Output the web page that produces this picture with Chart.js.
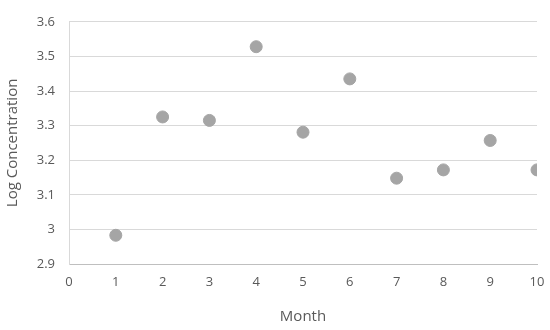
<!DOCTYPE html>
<html>
<head>
<meta charset="utf-8">
<script src="https://cdn.jsdelivr.net/npm/chart.js@4"></script>
<style>
    html, body { margin: 0; padding: 0; background: #ffffff; }
    #wrap { width: 550px; height: 330px; }
</style>
</head>
<body>
<div id="wrap"><canvas id="scatterChart" width="550" height="330"></canvas></div>
<script>
// 月份與對數濃度
const months = [1, 2, 3, 4, 5, 6, 7, 8, 9, 10];
const logConcentration = [2.983, 3.325, 3.315, 3.528, 3.281, 3.435, 3.148, 3.172, 3.257, 3.172];
const xTicks = [0, 1, 2, 3, 4, 5, 6, 7, 8, 9, 10];
const yTicks = [2.9, 3.0, 3.1, 3.2, 3.3, 3.4, 3.5, 3.6];

const fontFamily = "'Open Sans', sans-serif";

document.addEventListener('DOMContentLoaded', function () {
    const canvas = document.getElementById('scatterChart');
    const points = months.map(function (m, i) {
        return { x: m, y: logConcentration[i] };
    });

    new Chart(canvas, {
        type: 'scatter',
        data: {
            datasets: [{
                label: 'Log Concentration',
                data: points,
                backgroundColor: '#A5A5A5',
                borderColor: '#A5A5A5',
                pointRadius: 6,
                pointHoverRadius: 6
            }]
        },
        options: {
            responsive: false,
            animation: false,
            layout: {
                padding: { top: 10, right: 13, left: 0, bottom: 0 }
            },
            plugins: {
                legend: { display: false },
                tooltip: { enabled: false }
            },
            scales: {
                x: {
                    type: 'linear',
                    min: 0,
                    max: 10,
                    afterBuildTicks: function (axis) {
                        axis.ticks = xTicks.map(function (v) { return { value: v }; });
                    },
                    afterFit: function (axis) {
                        axis.height = 66;
                        axis.paddingRight = 0;
                    },
                    ticks: {
                        color: '#595959',
                        padding: 10,
                        maxRotation: 0,
                        font: { family: fontFamily, size: 13 }
                    },
                    grid: { display: false, drawTicks: false },
                    border: { display: true, color: '#BFBFBF', width: 1 },
                    title: {
                        display: true,
                        text: 'Month',
                        color: '#595959',
                        padding: { top: 4, bottom: 4 },
                        font: { family: fontFamily, size: 15 }
                    }
                },
                y: {
                    type: 'linear',
                    min: 2.9,
                    max: 3.6,
                    afterBuildTicks: function (axis) {
                        axis.ticks = yTicks.map(function (v) { return { value: v }; });
                    },
                    afterFit: function (axis) { axis.width = 69; },
                    ticks: {
                        color: '#595959',
                        padding: 14,
                        font: { family: fontFamily, size: 13 },
                        callback: function (value) {
                            return Math.round(value * 10) / 10;
                        }
                    },
                    grid: { color: '#D9D9D9', drawTicks: false },
                    border: { display: true, color: '#D9D9D9', width: 1 },
                    title: {
                        display: true,
                        text: 'Log Concentration',
                        color: '#595959',
                        padding: { top: 4, bottom: 0 },
                        font: { family: fontFamily, size: 15 }
                    }
                }
            }
        }
    });
});
</script>
</body>
</html>
